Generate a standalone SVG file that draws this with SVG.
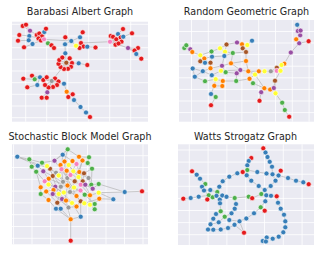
<svg xmlns="http://www.w3.org/2000/svg" width="325" height="256" viewBox="0 0 325 256">
<style>
.bg{fill:#eaeaf2}
.grid{stroke:#fff;stroke-width:0.8;fill:none}
.e{stroke:#b0b0b0;stroke-width:0.65;fill:none}
circle{r:2.5px;stroke:#fff;stroke-width:0.6}
.R{fill:#e41a1c}.B{fill:#377eb8}.G{fill:#4daf4a}.P{fill:#984ea3}.O{fill:#ff7f00}.Y{fill:#ffff33}.N{fill:#a65628}.K{fill:#f781bf}.A{fill:#999999}
.t{font-family:"DejaVu Sans","Liberation Sans",sans-serif;font-size:9.6px;fill:#262626;text-anchor:middle}
</style>
<rect width="325" height="256" fill="#fff"/>
<g id="panels">
<rect class="bg" x="12" y="21.7" width="136" height="100"/>
<rect class="bg" x="179" y="20" width="135" height="101.7"/>
<rect class="bg" x="12" y="144.3" width="136" height="100"/>
<rect class="bg" x="178" y="144.3" width="136" height="100.7"/>
<path class="grid" d="M25.7 21.7V121.7M46.7 21.7V121.7M67.7 21.7V121.7M88.7 21.7V121.7M109.7 21.7V121.7M130.7 21.7V121.7M12 24.3H148M12 36H148M12 47.7H148M12 59.3H148M12 71H148M12 82.7H148M12 94.3H148M12 106H148M12 117.7H148"/>
<path class="grid" d="M191.5 20V121.7M208.3 20V121.7M225.1 20V121.7M241.9 20V121.7M258.7 20V121.7M275.5 20V121.7M292.3 20V121.7M309.1 20V121.7M179 31.5H314M179 43H314M179 54.6H314M179 66.2H314M179 77.8H314M179 89.4H314M179 101H314M179 112.6H314"/>
<path class="grid" d="M13.5 144.3V244.3M32 144.3V244.3M50.5 144.3V244.3M69 144.3V244.3M87.5 144.3V244.3M106 144.3V244.3M124.5 144.3V244.3M143 144.3V244.3M12 155.7H148M12 167.5H148M12 179.3H148M12 191.1H148M12 202.9H148M12 214.7H148M12 226.5H148M12 238.3H148"/>
<path class="grid" d="M189.3 144.3V245M208.1 144.3V245M226.9 144.3V245M245.7 144.3V245M264.5 144.3V245M283.3 144.3V245M302.1 144.3V245M178 150H314M178 162.1H314M178 174.2H314M178 186.3H314M178 198.4H314M178 210.5H314M178 222.6H314M178 234.7H314"/>
</g>
<g id="titles">
<text class="t" x="80" y="15">Barabasi Albert Graph</text>
<text class="t" x="246.5" y="15">Random Geometric Graph</text>
<text class="t" x="80" y="139.5">Stochastic Block Model Graph</text>
<text class="t" x="245.5" y="139.5">Watts Strogatz Graph</text>
</g>
<g id="connectors">
<path class="e" d="M44 39.3L29.3 36M44 39.3L32.5 44M44 39.3L36.7 35M44 39.3L39.3 33.5M44 39.3L42 36.3M44 39.3L38.5 38.5M44 39.3L44.3 32M44 39.3L48 43.3M44 39.3L30 30.7M44 39.3L41 40.5M44 39.3L71.3 41M44.3 32L46 28.7M30 30.7L22.7 26M30 30.7L26 24.7M29.3 36L19.3 35M28.7 40.3L18 40.7M29.3 36L28.7 40.3M32.5 44L24 47.3M48 43.3L51.5 45.3M48 43.3L54 48M71.3 41L65.3 37.3M71.3 41L65 44.3M71.3 41L76 45.7M71.3 41L80 37.3M80 37.3L82.7 32.3M76 45.7L81 43M76 45.7L83.5 46.5M76 45.7L79.5 48M76 45.7L87.3 46.7M87.3 46.7L95.5 47.5M81 43L110 41.7M65 44.3L65.3 53.3L66.3 62.7M66.3 62.7L72 63M66.3 62.7L71 66.8M66.3 62.7L68 68.8M66.3 62.7L64 69M66.3 62.7L60.5 67M66.3 62.7L58.5 63.8M66.3 62.7L59.3 60M66.3 62.7L62.3 57.5M66.3 62.7L69.7 58.3M66.3 62.7L78.7 63.3L87.3 65M66.3 62.7L51.7 81M51.7 81L43.3 80M51.7 81L46.7 77.3M51.7 81L55 78.5M51.7 81L58.5 81.5M51.7 81L57 85M51.7 81L53 87M51.7 81L48.5 87.5M51.7 81L45 85M51.7 81L40 77.3M51.7 81L47.3 92.3M51.7 81L64 83.7M40 77.3L32 75.7M40 77.3L34.7 79.3L23.3 78.7M37.3 85L40 77.3M37.3 85L27.3 87.3M47.3 92.3L41.7 97.7M47.3 92.3L46.7 97.7M64 83.7L66.7 91.7L68.3 97M66.7 91.7L72.7 94.3L74 100L80.5 107L86 112.5L90 117M110 41.7L110.7 36M110 41.7L113 36.8M110 41.7L116.3 39.3M110 41.7L120.7 37.5M110 41.7L121.5 41.7M110 41.7L115.5 44.7M110 41.7L118.5 43.5M110 41.7L118 34L123 29M110 41.7L128 48M120.7 37.5L123.3 36.7L132 33.3M128 48L138 48M128 48L134.5 50.5M128 48L136.3 54L141.3 58.7"/>
<path class="e" d="M184.3 48L186.3 45.3L190.3 49.3L184.3 48M190.3 49.3L192.3 52L200.3 55.3L204.3 58.5L200.3 61.3L200.3 55.3M204.3 58.5L205 62.8L200.3 61.3M205 62.8L210.5 62.7L212 56.7L204.3 58.5M212 56.7L211.5 51.5L200.3 55.3M211.5 51.5L220 48.3L226.5 44.5L237 42.5L242 44.3L247.3 45L252 40.7M220 48.3L225 51.7L226.5 44.5M242 44.3L242.7 48.3L247.3 45M242.7 48.3L246 52L246 61M225 51.7L232.8 53L224.3 56L225 51.7M232.8 53L246 52M232.8 53L231 63.3M212 56.7L224.3 56L222 65.8M210.5 62.7L210.5 68.3L222 65.8L231 63.3L246 61M231 63.3L240.3 70L236.7 73.3L225.7 72.2M236.7 73.3L236.2 81M240.3 70L248.3 71.3M210.5 68.3L202.8 71.2L192.7 68.5L194.8 76.7L202.8 71.2L211.8 75.2L215.7 79.2M194.8 76.7L205 81.2L215.7 79.2L222.8 81L222.3 86L214.3 85.8L215.7 79.2M211.8 75.2L221 70.8L225.7 72.2L222 65.8M214.3 85.8L211 94L215.7 97L211 105.2M222.8 81L236.2 81M246 61L248.3 71.3L258.8 71.3L264.5 71.3L270.8 71.3L276.8 70.8L280.5 70.8L276.8 67.8L281.5 65L284.3 63.7L290.8 52.5L299.2 43.3L296.2 39.3L300.2 35.3L297.8 31L297.2 24.8L300.6 30.6L300.2 35.3M299.2 43.3L308.6 41.2M270.8 71.3L276.8 67.8M248.3 71.3L255 74.5L249.5 78.8L253 83.2L264.3 88.2L270.2 89.5L273.8 88L275 80.7L275.5 93.3L282.2 102.7L284.8 110L289.2 116.7M280.5 70.8L275 80.7M264.3 88.2L261.2 92.2L259.5 100.8M273.8 88L275.5 93.3M255 74.5L264.3 88.2M258.8 71.3L255 74.5M236.2 81L249.5 78.8M221 70.8L240.3 70"/>
<path class="e" d="M17.3 156.7L29.3 159.3L42 162.7L54.5 160.7M17.3 156.7L37.7 165.7L43.3 171.3M17.3 156.7L50 168.7M29.3 159.3L31.7 166.7L37.7 165.7M31.7 166.7L36.2 171.7L44.7 181.3M36.2 171.7L40.7 187.3L40.7 194L48.5 200L56 208.7L60.7 208.7L70.7 219.3L70.7 240.7M56 208.7L70.7 219.3L80.7 216.7L80.7 201.3M70.7 219.3L66 200.5M80.7 216.7L72 203M60.7 208.7L57.3 202.7M42 162.7L47 166M67.7 149.3L62.7 154.7L54.5 160.7L67.7 149.3L79 156.8L89 157.3L87.7 163L92 168.7L84 173.3M67.7 149.3L64.5 161.5M62.7 154.7L72.5 161M79 156.8L82.5 160.5L87.7 163M92 168.7L91.3 184.7L98.7 184L92.7 188.7M94.7 209.3L90 204.7M94.7 209.3L94.7 204L99.3 198.7L113.3 199.3L98.7 192.7L124.7 192L142 191.3M98.7 184L124.7 192M98.7 192.7L90 195.3L84.7 194.7L94.7 204M60.5 165L66.7 170.7L67.3 178L74.7 181.3L80.7 184.7L85.3 184.7L92.7 188.7M60.5 165L61.5 169.2L58.7 175.5L63 181.8L60.8 186.7L67.5 185.5L74 187.5L80.5 190.5L84.7 194.7M68.7 165L73.3 171.3L70.5 175L67.3 178M64.5 161.5L68.7 165L78.5 177L74.7 181.3L70 192L76.5 196L80.7 201.3L84.3 203.3L90 204.7L90 195.3M72.5 161L76.5 164L79.3 172L78.5 177M82.5 160.5L79.3 172M82.5 160.5L74.7 181.3M50 168.7L56 172.7L58.7 175.5L61.5 169.2L62.7 154.7M43.3 171.3L52.7 176L48.7 178.7L44.7 181.3L48.5 184.5L55.3 186.7L52.7 194L58.7 194L63.8 192.5L70 192L76.5 196M47 166L50 168.7M47 166L60.8 186.7M54.5 160.7L67.3 178M50 168.7L74 187.5M60.5 165L76.5 196M66.7 170.7L92.7 188.7M56 172.7L80.7 201.3M48.7 178.7L90 195.3M64.5 161.5L70.5 175L79.3 172M44.7 181.3L68.5 207.5M43.3 171.3L62 199L66 200.5L72 203L76.5 206.5L80.7 201.3M61.5 169.2L63 181.8M55.3 186.7L76.5 206.5M48.5 184.5L63.8 192.5M52.7 176L67.5 185.5M40.7 194L46.2 191.5L53.5 190L55.3 186.7M46.2 191.5L57.3 202.7L66 200.5L62 199L52.7 194L68.5 207.5L76.5 206.5M52.7 194L70 192M58.7 194L72 203M84.3 203.3L99.3 198.7M88.5 178L84 173.3M88.5 178L91.3 184.7M73.3 171.3L88.5 178M85.3 184.7L90 195.3M80.7 184.7L90 195.3M82.7 181.3L85.3 184.7M79.3 172L82.7 181.3L80.7 184.7M84 173.3L82.7 181.3M58.7 194L50 168.7M74 187.5L84.7 194.7M63.8 192.5L80.5 190.5M60.8 186.7L57.3 202.7M67.5 185.5L65 200.5M69.7 192L64 161.5M76.5 164L67.3 178"/>
<path class="e" d="M263.3 148.3L265.5 152.5L267.5 157L269.7 161.8L272 166.7L272.5 174.3M251.3 158L248.7 161L247.3 165.3L247.3 170L257.3 172L266.5 173.5L272.5 174.3L278.5 175.5L288 178L296 180.7L303.3 182.3L308.7 184.2M278.5 175.5L280.7 170.7M272.5 174.3L275.5 180.7L270.7 186L264.7 190L258.7 186L251.3 180.7L246.7 175.3L247.3 170L242.7 172L237.3 173.3L229.3 176.7L222.7 181.3L219.3 186.7L217.3 192L216.5 195.8M264.7 190L261.3 194M192 171.3L196.7 174.7L200 178.7L205.3 184L202 186.7L204 190.5L210.3 190L217.3 192M204 190.5L208.7 195.3M183.3 198.7L190.7 198L198.7 196.7L208.7 195.3L207.3 199.5L212.7 197.3L216.5 195.8L222.3 195.5L226.5 196.8L234.7 198L248.7 196.7L252.2 198.2L261.3 194L266.3 195.3L271 195.8L276.7 196.3L278 202.7L280.7 208.7L284 214.7L285.3 221.3L285.3 227.3L283.3 232.3L278.7 236.7L272.7 238.7L266.7 237.5L262.7 241L265.9 241.5M234.7 198L236 204L234.7 208.7L231.5 213.3L224.7 216.7L229.3 220L239.5 221.3M266.3 195.3L265.3 201.3L260.7 207.3L264.7 210.7M260.7 207.3L254 213.3L246.3 218.5L239.5 221.3L234.5 224.8L228 228L220.7 229.5L213.3 229.7L208 229.5L210.5 224.3L213.3 218.7L216 214L220.7 211.3L220 203.3L219.8 199.5L222.3 195.5M224.7 216.7L218.7 222.3L210.5 224.3M234.5 224.8L244 232.7L239.5 221.3"/>
</g>
<g id="ba-nodes">
<g id="a1"><circle class="R" cx="22.7" cy="26"/></g>
<g id="a2"><circle class="R" cx="26" cy="24.7"/></g>
<g id="a3"><circle class="P" cx="30" cy="30.7"/></g>
<g id="a4"><circle class="R" cx="19.3" cy="35"/></g>
<g id="a5"><circle class="B" cx="29.3" cy="36"/></g>
<g id="a6"><circle class="R" cx="18" cy="40.7"/></g>
<g id="a7"><circle class="B" cx="28.7" cy="40.3"/></g>
<g id="a8"><circle class="B" cx="32.5" cy="44"/></g>
<g id="a9"><circle class="R" cx="24" cy="47.3"/></g>
<g id="a10"><circle class="R" cx="36.7" cy="35"/></g>
<g id="a11"><circle class="R" cx="39.3" cy="33.5"/></g>
<g id="a12"><circle class="R" cx="42" cy="36.3"/></g>
<g id="a13"><circle class="R" cx="38.5" cy="38.5"/></g>
<g id="a20"><circle class="R" cx="41" cy="40.5"/></g>
<g id="a14"><circle class="B" cx="44.3" cy="32"/></g>
<g id="a15"><circle class="R" cx="46" cy="28.7"/></g>
<g id="a16"><circle class="K" cx="44" cy="39.3"/></g>
<g id="a17"><circle class="G" cx="48" cy="43.3"/></g>
<g id="a18"><circle class="R" cx="51.5" cy="45.3"/></g>
<g id="a19"><circle class="R" cx="54" cy="48"/></g>
<g id="a21"><circle class="R" cx="65.3" cy="37.3"/></g>
<g id="a22"><circle class="B" cx="71.3" cy="41"/></g>
<g id="a23"><circle class="B" cx="65" cy="44.3"/></g>
<g id="a25"><circle class="B" cx="80" cy="37.3"/></g>
<g id="a26"><circle class="R" cx="82.7" cy="32.3"/></g>
<g id="a27"><circle class="R" cx="81" cy="43"/></g>
<g id="a28"><circle class="R" cx="83.5" cy="46.5"/></g>
<g id="a29"><circle class="R" cx="79.5" cy="48"/></g>
<g id="a24"><circle class="Y" cx="76" cy="45.7"/></g>
<g id="a30"><circle class="B" cx="87.3" cy="46.7"/></g>
<g id="a31"><circle class="R" cx="95.5" cy="47.5"/></g>
<g id="a45"><circle class="B" cx="65.3" cy="53.3"/></g>
<g id="a34"><circle class="R" cx="72" cy="63"/></g>
<g id="a35"><circle class="R" cx="71" cy="66.8"/></g>
<g id="a36"><circle class="R" cx="68" cy="68.8"/></g>
<g id="a37"><circle class="R" cx="64" cy="69"/></g>
<g id="a38"><circle class="R" cx="60.5" cy="67"/></g>
<g id="a39"><circle class="R" cx="58.5" cy="63.8"/></g>
<g id="a40"><circle class="R" cx="59.3" cy="60"/></g>
<g id="a41"><circle class="R" cx="62.3" cy="57.5"/></g>
<g id="a43"><circle class="R" cx="69.7" cy="58.3"/></g>
<g id="a33"><circle class="N" cx="66.3" cy="62.7"/></g>
<g id="a46"><circle class="B" cx="78.7" cy="63.3"/></g>
<g id="a47"><circle class="R" cx="87.3" cy="65"/></g>
<g id="a49"><circle class="R" cx="23.3" cy="78.7"/></g>
<g id="a50"><circle class="R" cx="32" cy="75.7"/></g>
<g id="a51"><circle class="G" cx="34.7" cy="79.3"/></g>
<g id="a52"><circle class="B" cx="40" cy="77.3"/></g>
<g id="a53"><circle class="R" cx="27.3" cy="87.3"/></g>
<g id="a54"><circle class="B" cx="37.3" cy="85"/></g>
<g id="a55"><circle class="R" cx="43.3" cy="80"/></g>
<g id="a56"><circle class="R" cx="46.7" cy="77.3"/></g>
<g id="a57"><circle class="R" cx="55" cy="78.5"/></g>
<g id="a58"><circle class="R" cx="58.5" cy="81.5"/></g>
<g id="a59"><circle class="R" cx="57" cy="85"/></g>
<g id="a60"><circle class="R" cx="53" cy="87"/></g>
<g id="a61"><circle class="R" cx="48.5" cy="87.5"/></g>
<g id="a62"><circle class="R" cx="45" cy="85"/></g>
<g id="a48"><circle class="A" cx="51.7" cy="81"/></g>
<g id="a63"><circle class="P" cx="47.3" cy="92.3"/></g>
<g id="a64"><circle class="R" cx="41.7" cy="97.7"/></g>
<g id="a65"><circle class="R" cx="46.7" cy="97.7"/></g>
<g id="a66"><circle class="B" cx="64" cy="83.7"/></g>
<g id="a67"><circle class="O" cx="66.7" cy="91.7"/></g>
<g id="a68"><circle class="R" cx="68.3" cy="97"/></g>
<g id="a69"><circle class="R" cx="72.7" cy="94.3"/></g>
<g id="a70"><circle class="B" cx="74" cy="100"/></g>
<g id="a71"><circle class="B" cx="80.5" cy="107"/></g>
<g id="a72"><circle class="B" cx="86" cy="112.5"/></g>
<g id="a73"><circle class="R" cx="90" cy="117"/></g>
<g id="a74"><circle class="R" cx="123" cy="29"/></g>
<g id="a75"><circle class="R" cx="132" cy="33.3"/></g>
<g id="a76"><circle class="B" cx="118" cy="34"/></g>
<g id="a77"><circle class="R" cx="110.7" cy="36"/></g>
<g id="a78"><circle class="R" cx="113" cy="36.8"/></g>
<g id="a79"><circle class="R" cx="116.3" cy="39.3"/></g>
<g id="a80"><circle class="R" cx="120.7" cy="37.5"/></g>
<g id="a85"><circle class="B" cx="123.3" cy="36.7"/></g>
<g id="a81"><circle class="R" cx="121.5" cy="41.7"/></g>
<g id="a82"><circle class="R" cx="115.5" cy="44.7"/></g>
<g id="a83"><circle class="R" cx="118.5" cy="43.5"/></g>
<g id="a84"><circle class="K" cx="110" cy="41.7"/></g>
<g id="a86"><circle class="P" cx="128" cy="48"/></g>
<g id="a87"><circle class="R" cx="138" cy="48"/></g>
<g id="a88"><circle class="R" cx="134.5" cy="50.5"/></g>
<g id="a89"><circle class="B" cx="136.3" cy="54"/></g>
<g id="a90"><circle class="R" cx="141.3" cy="58.7"/></g>
</g>
<g id="rgg-nodes">
<g id="b1"><circle class="G" cx="184.3" cy="48"/></g>
<g id="b2"><circle class="G" cx="186.3" cy="45.3"/></g>
<g id="b3"><circle class="P" cx="190.3" cy="49.3"/></g>
<g id="b4"><circle class="O" cx="192.3" cy="52"/></g>
<g id="b5"><circle class="Y" cx="200.3" cy="55.3"/></g>
<g id="b6"><circle class="O" cx="204.3" cy="58.5"/></g>
<g id="b7"><circle class="N" cx="200.3" cy="61.3"/></g>
<g id="b8"><circle class="B" cx="205" cy="62.8"/></g>
<g id="b9"><circle class="N" cx="210.5" cy="62.7"/></g>
<g id="b10"><circle class="B" cx="212" cy="56.7"/></g>
<g id="b11"><circle class="G" cx="211.5" cy="51.5"/></g>
<g id="b12"><circle class="Y" cx="220" cy="48.3"/></g>
<g id="b13"><circle class="N" cx="226.5" cy="44.5"/></g>
<g id="b14"><circle class="P" cx="237" cy="42.5"/></g>
<g id="b15"><circle class="O" cx="242" cy="44.3"/></g>
<g id="b16"><circle class="Y" cx="225" cy="51.7"/></g>
<g id="b17"><circle class="G" cx="232.8" cy="53"/></g>
<g id="b18"><circle class="N" cx="242.7" cy="48.3"/></g>
<g id="b19"><circle class="B" cx="224.3" cy="56"/></g>
<g id="b20"><circle class="Y" cx="247.3" cy="45"/></g>
<g id="b21"><circle class="B" cx="252" cy="40.7"/></g>
<g id="b22"><circle class="N" cx="246" cy="52"/></g>
<g id="b23"><circle class="O" cx="246" cy="61"/></g>
<g id="b24"><circle class="O" cx="210.5" cy="68.3"/></g>
<g id="b25"><circle class="P" cx="222" cy="65.8"/></g>
<g id="b26"><circle class="O" cx="231" cy="63.3"/></g>
<g id="b27"><circle class="P" cx="240.3" cy="70"/></g>
<g id="b28"><circle class="P" cx="236.7" cy="73.3"/></g>
<g id="b29"><circle class="B" cx="192.7" cy="68.5"/></g>
<g id="b30"><circle class="B" cx="202.8" cy="71.2"/></g>
<g id="b31"><circle class="B" cx="194.8" cy="76.7"/></g>
<g id="b32"><circle class="B" cx="211.8" cy="75.2"/></g>
<g id="b33"><circle class="Y" cx="221" cy="70.8"/></g>
<g id="b34"><circle class="G" cx="225.7" cy="72.2"/></g>
<g id="b35"><circle class="Y" cx="215.7" cy="79.2"/></g>
<g id="b36"><circle class="O" cx="222.8" cy="81"/></g>
<g id="b37"><circle class="G" cx="205" cy="81.2"/></g>
<g id="b38"><circle class="G" cx="236.2" cy="81"/></g>
<g id="b39"><circle class="O" cx="214.3" cy="85.8"/></g>
<g id="b40"><circle class="O" cx="222.3" cy="86"/></g>
<g id="b41"><circle class="B" cx="211" cy="94"/></g>
<g id="b42"><circle class="G" cx="215.7" cy="97"/></g>
<g id="b43"><circle class="R" cx="211" cy="105.2"/></g>
<g id="b44"><circle class="O" cx="248.3" cy="71.3"/></g>
<g id="b45"><circle class="O" cx="258.8" cy="71.3"/></g>
<g id="b46"><circle class="Y" cx="264.5" cy="71.3"/></g>
<g id="b47"><circle class="A" cx="270.8" cy="71.3"/></g>
<g id="b50"><circle class="N" cx="276.8" cy="67.8"/></g>
<g id="b48"><circle class="K" cx="276.8" cy="70.8"/></g>
<g id="b49"><circle class="Y" cx="280.5" cy="70.8"/></g>
<g id="b51"><circle class="O" cx="284.3" cy="63.7"/></g>
<g id="b52"><circle class="Y" cx="281.5" cy="65"/></g>
<g id="b53"><circle class="Y" cx="255" cy="74.5"/></g>
<g id="b54"><circle class="O" cx="249.5" cy="78.8"/></g>
<g id="b55"><circle class="N" cx="275" cy="80.7"/></g>
<g id="b56"><circle class="G" cx="253" cy="83.2"/></g>
<g id="b57"><circle class="O" cx="264.3" cy="88.2"/></g>
<g id="b58"><circle class="O" cx="270.2" cy="89.5"/></g>
<g id="b59"><circle class="P" cx="273.8" cy="88"/></g>
<g id="b60"><circle class="P" cx="261.2" cy="92.2"/></g>
<g id="b61"><circle class="Y" cx="275.5" cy="93.3"/></g>
<g id="b62"><circle class="R" cx="259.5" cy="100.8"/></g>
<g id="b63"><circle class="G" cx="282.2" cy="102.7"/></g>
<g id="b64"><circle class="G" cx="284.8" cy="110"/></g>
<g id="b65"><circle class="R" cx="289.2" cy="116.7"/></g>
<g id="b66"><circle class="P" cx="290.8" cy="52.5"/></g>
<g id="b67"><circle class="O" cx="296.2" cy="39.3"/></g>
<g id="b68"><circle class="P" cx="299.2" cy="43.3"/></g>
<g id="b69"><circle class="R" cx="308.6" cy="41.2"/></g>
<g id="b70"><circle class="P" cx="300.2" cy="35.3"/></g>
<g id="b71"><circle class="P" cx="297.8" cy="31"/></g>
<g id="b72"><circle class="P" cx="300.6" cy="30.6"/></g>
<g id="b73"><circle class="B" cx="297.2" cy="24.8"/></g>
</g>
<g id="sbm-nodes">
<g id="c1"><circle class="G" cx="67.7" cy="149.3"/></g>
<g id="c2"><circle class="B" cx="62.7" cy="154.7"/></g>
<g id="c3"><circle class="O" cx="79" cy="156.8"/></g>
<g id="c4"><circle class="G" cx="89" cy="157.3"/></g>
<g id="c5"><circle class="P" cx="54.5" cy="160.7"/></g>
<g id="c6"><circle class="G" cx="42" cy="162.7"/></g>
<g id="c7"><circle class="O" cx="60.5" cy="165"/></g>
<g id="c8"><circle class="Y" cx="68.7" cy="165"/></g>
<g id="c9"><circle class="O" cx="64.5" cy="161.5"/></g>
<g id="c10"><circle class="O" cx="72.5" cy="161"/></g>
<g id="c11"><circle class="K" cx="76.5" cy="164"/></g>
<g id="c12"><circle class="O" cx="82.5" cy="160.5"/></g>
<g id="c13"><circle class="G" cx="87.7" cy="163"/></g>
<g id="c14"><circle class="B" cx="37.7" cy="165.7"/></g>
<g id="c15"><circle class="G" cx="31.7" cy="166.7"/></g>
<g id="c16"><circle class="G" cx="36.2" cy="171.7"/></g>
<g id="c17"><circle class="N" cx="50" cy="168.7"/></g>
<g id="c18"><circle class="P" cx="43.3" cy="171.3"/></g>
<g id="c19"><circle class="A" cx="56" cy="172.7"/></g>
<g id="c20"><circle class="O" cx="66.7" cy="170.7"/></g>
<g id="c21"><circle class="Y" cx="73.3" cy="171.3"/></g>
<g id="c22"><circle class="O" cx="79.3" cy="172"/></g>
<g id="c23"><circle class="N" cx="84" cy="173.3"/></g>
<g id="c24"><circle class="G" cx="92" cy="168.7"/></g>
<g id="c25"><circle class="Y" cx="47" cy="166"/></g>
<g id="c26"><circle class="K" cx="61.5" cy="169.2"/></g>
<g id="c27"><circle class="N" cx="52.7" cy="176"/></g>
<g id="c28"><circle class="O" cx="48.7" cy="178.7"/></g>
<g id="c29"><circle class="Y" cx="58.7" cy="175.5"/></g>
<g id="c30"><circle class="A" cx="67.3" cy="178"/></g>
<g id="c31"><circle class="N" cx="74.7" cy="181.3"/></g>
<g id="c32"><circle class="N" cx="82.7" cy="181.3"/></g>
<g id="c33"><circle class="K" cx="44.7" cy="181.3"/></g>
<g id="c34"><circle class="A" cx="63" cy="181.8"/></g>
<g id="c35"><circle class="K" cx="70.5" cy="175"/></g>
<g id="c36"><circle class="Y" cx="78.5" cy="177"/></g>
<g id="c82"><circle class="A" cx="88.5" cy="178"/></g>
<g id="c37"><circle class="P" cx="55.3" cy="186.7"/></g>
<g id="c38"><circle class="O" cx="40.7" cy="187.3"/></g>
<g id="c39"><circle class="K" cx="80.7" cy="184.7"/></g>
<g id="c40"><circle class="P" cx="85.3" cy="184.7"/></g>
<g id="c41"><circle class="G" cx="91.3" cy="184.7"/></g>
<g id="c42"><circle class="G" cx="98.7" cy="184"/></g>
<g id="c43"><circle class="P" cx="92.7" cy="188.7"/></g>
<g id="c44"><circle class="Y" cx="48.5" cy="184.5"/></g>
<g id="c45"><circle class="A" cx="60.8" cy="186.7"/></g>
<g id="c46"><circle class="O" cx="67.5" cy="185.5"/></g>
<g id="c47"><circle class="Y" cx="74" cy="187.5"/></g>
<g id="c83"><circle class="O" cx="53.5" cy="190"/></g>
<g id="c81"><circle class="K" cx="80.5" cy="190.5"/></g>
<g id="c48"><circle class="G" cx="40.7" cy="194"/></g>
<g id="c56"><circle class="O" cx="46.2" cy="191.5"/></g>
<g id="c49"><circle class="P" cx="52.7" cy="194"/></g>
<g id="c50"><circle class="Y" cx="58.7" cy="194"/></g>
<g id="c51"><circle class="Y" cx="63.8" cy="192.5"/></g>
<g id="c57"><circle class="A" cx="70" cy="192"/></g>
<g id="c58"><circle class="O" cx="76.5" cy="196"/></g>
<g id="c52"><circle class="G" cx="84.7" cy="194.7"/></g>
<g id="c53"><circle class="O" cx="90" cy="195.3"/></g>
<g id="c54"><circle class="Y" cx="98.7" cy="192.7"/></g>
<g id="c55"><circle class="O" cx="99.3" cy="198.7"/></g>
<g id="c66"><circle class="O" cx="48.5" cy="200"/></g>
<g id="c67"><circle class="P" cx="62" cy="199"/></g>
<g id="c59"><circle class="N" cx="57.3" cy="202.7"/></g>
<g id="c64"><circle class="O" cx="66" cy="200.5"/></g>
<g id="c65"><circle class="Y" cx="72" cy="203"/></g>
<g id="c60"><circle class="N" cx="80.7" cy="201.3"/></g>
<g id="c61"><circle class="Y" cx="84.3" cy="203.3"/></g>
<g id="c62"><circle class="Y" cx="90" cy="204.7"/></g>
<g id="c63"><circle class="G" cx="94.7" cy="204"/></g>
<g id="c71"><circle class="A" cx="68.5" cy="207.5"/></g>
<g id="c72"><circle class="O" cx="76.5" cy="206.5"/></g>
<g id="c68"><circle class="B" cx="56" cy="208.7"/></g>
<g id="c69"><circle class="B" cx="60.7" cy="208.7"/></g>
<g id="c70"><circle class="G" cx="94.7" cy="209.3"/></g>
<g id="c73"><circle class="B" cx="80.7" cy="216.7"/></g>
<g id="c74"><circle class="O" cx="70.7" cy="219.3"/></g>
<g id="c75"><circle class="R" cx="70.7" cy="240.7"/></g>
<g id="c76"><circle class="B" cx="17.3" cy="156.7"/></g>
<g id="c77"><circle class="G" cx="29.3" cy="159.3"/></g>
<g id="c78"><circle class="B" cx="113.3" cy="199.3"/></g>
<g id="c79"><circle class="B" cx="124.7" cy="192"/></g>
<g id="c80"><circle class="R" cx="142" cy="191.3"/></g>
</g>
<g id="ws-nodes">
<g id="d1"><circle class="R" cx="263.3" cy="148.3"/></g>
<g id="d2"><circle class="B" cx="265.5" cy="152.5"/></g>
<g id="d3"><circle class="B" cx="267.5" cy="157"/></g>
<g id="d4"><circle class="B" cx="269.7" cy="161.8"/></g>
<g id="d5"><circle class="B" cx="272" cy="166.7"/></g>
<g id="d6"><circle class="R" cx="251.3" cy="158"/></g>
<g id="d7"><circle class="B" cx="248.7" cy="161"/></g>
<g id="d8"><circle class="B" cx="247.3" cy="165.3"/></g>
<g id="d9"><circle class="G" cx="247.3" cy="170"/></g>
<g id="d10"><circle class="B" cx="257.3" cy="172"/></g>
<g id="d11"><circle class="B" cx="266.5" cy="173.5"/></g>
<g id="d12"><circle class="B" cx="272.5" cy="174.3"/></g>
<g id="d14"><circle class="R" cx="280.7" cy="170.7"/></g>
<g id="d13"><circle class="B" cx="278.5" cy="175.5"/></g>
<g id="d15"><circle class="B" cx="288" cy="178"/></g>
<g id="d16"><circle class="B" cx="296" cy="180.7"/></g>
<g id="d17"><circle class="B" cx="303.3" cy="182.3"/></g>
<g id="d18"><circle class="R" cx="308.7" cy="184.2"/></g>
<g id="d19"><circle class="B" cx="275.5" cy="180.7"/></g>
<g id="d20"><circle class="B" cx="270.7" cy="186"/></g>
<g id="d21"><circle class="B" cx="264.7" cy="190"/></g>
<g id="d22"><circle class="B" cx="246.7" cy="175.3"/></g>
<g id="d23"><circle class="B" cx="251.3" cy="180.7"/></g>
<g id="d24"><circle class="B" cx="258.7" cy="186"/></g>
<g id="d25"><circle class="R" cx="242.7" cy="172"/></g>
<g id="d26"><circle class="B" cx="237.3" cy="173.3"/></g>
<g id="d27"><circle class="B" cx="229.3" cy="176.7"/></g>
<g id="d28"><circle class="B" cx="222.7" cy="181.3"/></g>
<g id="d29"><circle class="B" cx="219.3" cy="186.7"/></g>
<g id="d30"><circle class="G" cx="217.3" cy="192"/></g>
<g id="d31"><circle class="R" cx="192" cy="171.3"/></g>
<g id="d32"><circle class="B" cx="196.7" cy="174.7"/></g>
<g id="d33"><circle class="B" cx="200" cy="178.7"/></g>
<g id="d34"><circle class="G" cx="205.3" cy="184"/></g>
<g id="d35"><circle class="B" cx="202" cy="186.7"/></g>
<g id="d36"><circle class="B" cx="204" cy="190.5"/></g>
<g id="d37"><circle class="B" cx="210.3" cy="190"/></g>
<g id="d38"><circle class="R" cx="183.3" cy="198.7"/></g>
<g id="d39"><circle class="B" cx="190.7" cy="198"/></g>
<g id="d40"><circle class="B" cx="198.7" cy="196.7"/></g>
<g id="d41"><circle class="G" cx="208.7" cy="195.3"/></g>
<g id="d42"><circle class="R" cx="207.3" cy="199.5"/></g>
<g id="d43"><circle class="G" cx="212.7" cy="197.3"/></g>
<g id="d44"><circle class="B" cx="216.5" cy="195.8"/></g>
<g id="d81"><circle class="B" cx="219.8" cy="199.5"/></g>
<g id="d45"><circle class="B" cx="222.3" cy="195.5"/></g>
<g id="d46"><circle class="B" cx="226.5" cy="196.8"/></g>
<g id="d47"><circle class="G" cx="234.7" cy="198"/></g>
<g id="d48"><circle class="G" cx="248.7" cy="196.7"/></g>
<g id="d49"><circle class="R" cx="252.2" cy="198.2"/></g>
<g id="d50"><circle class="G" cx="261.3" cy="194"/></g>
<g id="d51"><circle class="B" cx="266.3" cy="195.3"/></g>
<g id="d52"><circle class="B" cx="271" cy="195.8"/></g>
<g id="d53"><circle class="R" cx="276.7" cy="196.3"/></g>
<g id="d54"><circle class="B" cx="278" cy="202.7"/></g>
<g id="d55"><circle class="B" cx="280.7" cy="208.7"/></g>
<g id="d56"><circle class="B" cx="284" cy="214.7"/></g>
<g id="d57"><circle class="B" cx="285.3" cy="221.3"/></g>
<g id="d58"><circle class="B" cx="285.3" cy="227.3"/></g>
<g id="d59"><circle class="B" cx="283.3" cy="232.3"/></g>
<g id="d60"><circle class="B" cx="278.7" cy="236.7"/></g>
<g id="d61"><circle class="B" cx="272.7" cy="238.7"/></g>
<g id="d62"><circle class="B" cx="266.7" cy="237.5"/></g>
<g id="d63"><circle class="B" cx="262.7" cy="241"/></g>
<g id="d64"><circle class="B" cx="265.9" cy="241.5"/></g>
<g id="d65"><circle class="B" cx="265.3" cy="201.3"/></g>
<g id="d66"><circle class="G" cx="260.7" cy="207.3"/></g>
<g id="d67"><circle class="R" cx="264.7" cy="210.7"/></g>
<g id="d68"><circle class="B" cx="254" cy="213.3"/></g>
<g id="d69"><circle class="B" cx="246.3" cy="218.5"/></g>
<g id="d70"><circle class="B" cx="239.5" cy="221.3"/></g>
<g id="d71"><circle class="B" cx="234.5" cy="224.8"/></g>
<g id="d72"><circle class="B" cx="228" cy="228"/></g>
<g id="d73"><circle class="B" cx="220.7" cy="229.5"/></g>
<g id="d74"><circle class="B" cx="213.3" cy="229.7"/></g>
<g id="d75"><circle class="B" cx="208" cy="229.5"/></g>
<g id="d76"><circle class="B" cx="210.5" cy="224.3"/></g>
<g id="d77"><circle class="B" cx="213.3" cy="218.7"/></g>
<g id="d78"><circle class="B" cx="216" cy="214"/></g>
<g id="d79"><circle class="G" cx="220.7" cy="211.3"/></g>
<g id="d80"><circle class="B" cx="220" cy="203.3"/></g>
<g id="d82"><circle class="G" cx="224.7" cy="216.7"/></g>
<g id="d83"><circle class="B" cx="229.3" cy="220"/></g>
<g id="d84"><circle class="B" cx="236" cy="204"/></g>
<g id="d85"><circle class="B" cx="234.7" cy="208.7"/></g>
<g id="d86"><circle class="B" cx="231.5" cy="213.3"/></g>
<g id="d87"><circle class="R" cx="244" cy="232.7"/></g>
<g id="d88"><circle class="B" cx="218.7" cy="222.3"/></g>
</g>
</svg>
